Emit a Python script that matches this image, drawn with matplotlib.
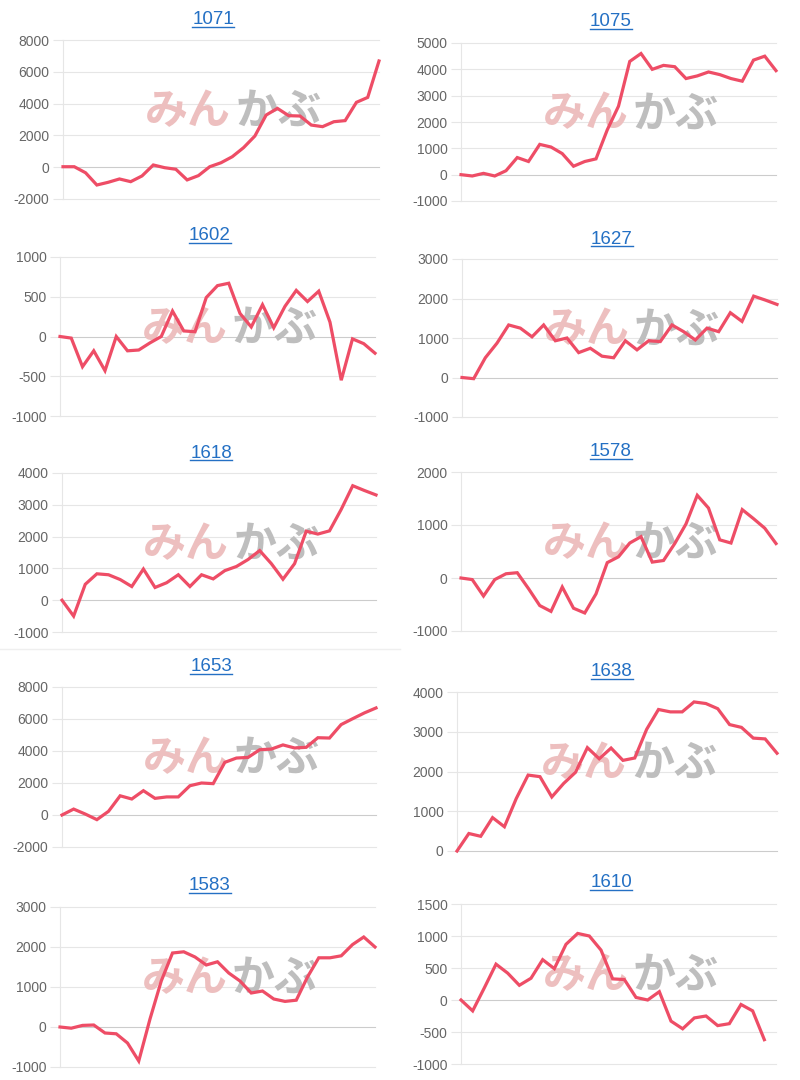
import matplotlib
matplotlib.use('Agg')
import matplotlib.pyplot as plt
from matplotlib.lines import Line2D
from matplotlib.ticker import FixedLocator, FuncFormatter
import numpy as np

plt.rcParams['font.family'] = ['Liberation Sans', 'DejaVu Sans']
plt.rcParams['axes.unicode_minus'] = False

# ---------------- data ----------------
titles = ['1071', '1075', '1602', '1627', '1618', '1578', '1653', '1638', '1583', '1610']

v1071 = [30, 30, -350, -1120, -950, -740, -910, -550, 140, -30, -130, -800, -530, 30,
         280, 660, 1230, 1960, 3280, 3700, 3240, 3220, 2650, 2550, 2860, 2930, 4080, 4390, 6680]
v1075 = [0, -50, 50, -50, 150, 650, 500, 1150, 1050, 800, 320, 500, 600, 1700, 2600,
         4300, 4600, 4000, 4150, 4100, 3650, 3750, 3900, 3800, 3650, 3550, 4350, 4500, 3950]
v1602 = [0, -20, -380, -180, -430, 0, -180, -170, -80, 0, 320, 70, 60, 490, 640, 670,
         290, 120, 400, 110, 380, 580, 440, 570, 180, -550, -30, -90, -210]
v1627 = [0, -30, 500, 870, 1330, 1250, 1030, 1330, 930, 1000, 630, 740, 540, 500, 930,
         700, 930, 910, 1330, 1160, 950, 1250, 1160, 1640, 1420, 2060, 1960, 1850]
v1618 = [0, -500, 500, 830, 800, 650, 430, 980, 400, 550, 800, 430, 800, 670, 930, 1060,
         1280, 1560, 1150, 660, 1150, 2170, 2080, 2180, 2850, 3600, 3450, 3310]
v1578 = [0, -30, -340, -30, 80, 100, -200, -520, -630, -170, -570, -660, -300, 290, 400,
         660, 780, 300, 330, 650, 1020, 1560, 1320, 720, 660, 1290, 1120, 940, 650]
v1653 = [0, 370, 60, -290, 230, 1200, 1000, 1520, 1040, 1130, 1130, 1830, 2000, 1960,
         3290, 3560, 3600, 4080, 4120, 4380, 4190, 4230, 4830, 4810, 5650, 6020, 6380, 6690]
v1638 = [0, 440, 370, 840, 610, 1320, 1910, 1870, 1360, 1700, 1980, 2600, 2320, 2590,
         2280, 2340, 3060, 3560, 3500, 3500, 3750, 3710, 3580, 3180, 3110, 2840, 2820, 2460]
v1583 = [0, -30, 40, 50, -150, -170, -400, -850, 200, 1150, 1850, 1880, 1750, 1550, 1630,
         1350, 1150, 850, 900, 700, 640, 670, 1250, 1730, 1730, 1780, 2060, 2250, 2000]
v1610 = [0, -170, 190, 560, 420, 230, 340, 630, 490, 870, 1040, 1000, 780, 330, 320, 40,
         0, 130, -330, -450, -280, -250, -400, -370, -70, -170, -620, None]

series = [v1071, v1075, v1602, v1627, v1618, v1578, v1653, v1638, v1583, v1610]

t1071 = [-2000, 0, 2000, 4000, 6000, 8000]
t1075 = [-1000, 0, 1000, 2000, 3000, 4000, 5000]
t1602 = [-1000, -500, 0, 500, 1000]
t1627 = [-1000, 0, 1000, 2000, 3000]
t1618 = [-1000, 0, 1000, 2000, 3000, 4000]
t1578 = [-1000, 0, 1000, 2000]
t1653 = [-2000, 0, 2000, 4000, 6000, 8000]
t1638 = [0, 1000, 2000, 3000, 4000]
t1583 = [-1000, 0, 1000, 2000, 3000]
t1610 = [-1000, -500, 0, 500, 1000, 1500]
yticks = [t1071, t1075, t1602, t1627, t1618, t1578, t1653, t1638, t1583, t1610]

watermark_a = 'みん'
watermark_b = 'かぶ'

# ---------------- layout (pixels) ----------------
W, H = 800, 1080
boxes = [(63, 40, 379, 199), (461, 43, 776, 201), (60, 257, 375, 416), (462, 259, 777, 417),
         (62, 473, 376, 632), (461, 472, 776, 631), (62, 687, 376, 847), (457, 692, 777, 851),
         (60, 907, 375, 1067), (461, 904, 776, 1064)]
title_pos = [(213, 17.5), (611, 19.7), (210, 234), (612, 237), (211, 451), (611, 450),
             (211, 664.5), (612, 670), (210, 884), (611, 880.5)]

LINE = '#ee4d66'
GRID = '#e6e6e6'
ZERO = '#cccccc'
TICKC = '#666666'
TITLEC = '#2470c4'

fig = plt.figure(figsize=(W / 100, H / 100), dpi=100)
fig.patch.set_facecolor('white')

# faint separator
fig.add_artist(Line2D([0, 400 / W], [1 - 648.5 / H, 1 - 648.5 / H], transform=fig.transFigure,
                      color='#efefef', lw=1.0))

title_texts = []
for i, (vals, ticks, box) in enumerate(zip(series, yticks, boxes)):
    l, t, r, b = box
    ax = fig.add_axes([l / W, 1 - b / H, (r - l) / W, (b - t) / H])
    n = len(vals)
    x = np.arange(n)
    y = np.array([np.nan if v is None else v for v in vals], dtype=float)
    ax.set_xlim(0, n - 1)
    ax.set_ylim(ticks[0], ticks[-1])
    ax.yaxis.set_major_locator(FixedLocator(ticks))
    ax.yaxis.set_major_formatter(FuncFormatter(lambda v, p: str(int(round(v)))))
    ax.set_xticks([])
    for s in ['top', 'right', 'bottom']:
        ax.spines[s].set_visible(False)
    ax.spines['left'].set_color(GRID)
    ax.spines['left'].set_linewidth(0.8)
    for tv in ticks:
        ax.axhline(tv, color=ZERO if tv == 0 else GRID, lw=0.8, zorder=1, clip_on=False)
    ax.tick_params(axis='y', length=7.2, width=0.8, color=GRID, pad=2.5,
                   labelsize=10, labelcolor=TICKC)
    ax.text(0.532, 0.555, watermark_a, transform=ax.transAxes, ha='right', va='center',
            fontsize=31, fontweight='bold', color='#edbfbf',
            family=['Noto Sans CJK JP', 'DejaVu Sans'], zorder=2)
    ax.text(0.545, 0.555, watermark_b, transform=ax.transAxes, ha='left', va='center',
            fontsize=31, fontweight='bold', color='#bebebe',
            family=['Noto Sans CJK JP', 'DejaVu Sans'], zorder=2)
    ax.plot(x, y, color=LINE, lw=2.3, solid_joinstyle='miter', zorder=5, clip_on=False)
    ax.patch.set_alpha(0)

    tx, ty = title_pos[i]
    tt = fig.text(tx / W, 1 - (ty + 6.5) / H, titles[i], ha='center', va='baseline',
                  fontsize=13.5, color=TITLEC)
    title_texts.append(tt)

fig.canvas.draw()
renderer = fig.canvas.get_renderer()
for tt in title_texts:
    bb = tt.get_window_extent(renderer)
    yb = tt.get_position()[1] * H - 2.5
    fig.add_artist(Line2D([bb.x0 / W, bb.x1 / W], [yb / H, yb / H], transform=fig.transFigure,
                          color=TITLEC, lw=1.0))

fig.savefig('out.png', dpi=100, facecolor='white')
